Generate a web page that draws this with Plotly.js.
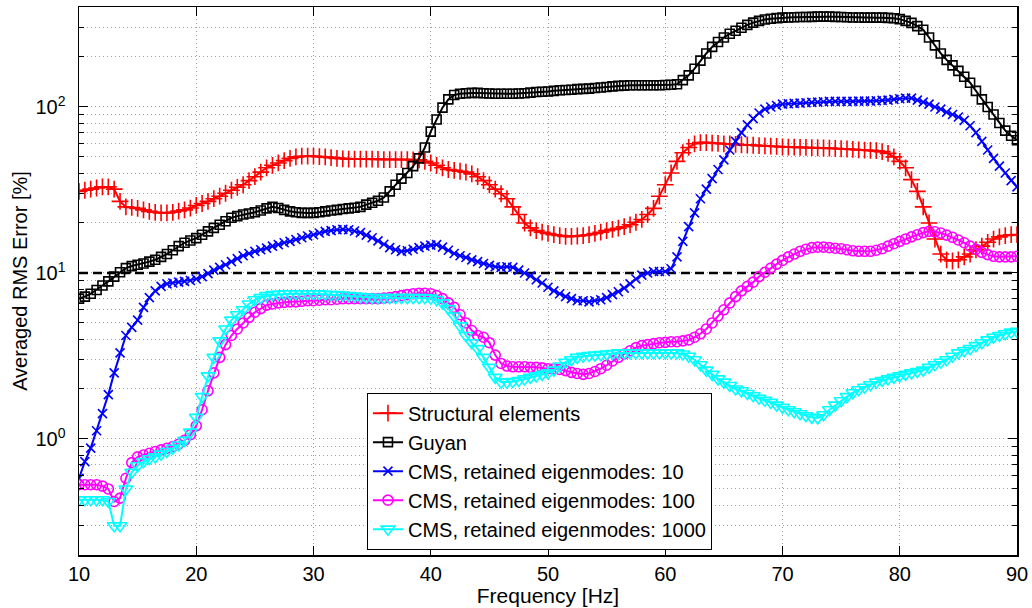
<!DOCTYPE html>
<html>
<head>
<meta charset="utf-8">
<script src="https://cdn.plot.ly/plotly-3.0.1.min.js"></script>
<style>html,body{margin:0;padding:0;background:#fff;}#chart{width:1032px;height:608px;}</style>
</head>
<body>
<div id="chart"></div>
<script>
// Frequency grid [Hz]
const freq = [
10,10.5,11,11.5,12,12.5,13,13.5,14,14.5,
15,15.5,16,16.5,17,17.5,18,18.5,19,19.5,
20,20.5,21,21.5,22,22.5,23,23.5,24,24.5,
25,25.5,26,26.5,27,27.5,28,28.5,29,29.5,
30,30.5,31,31.5,32,32.5,33,33.5,34,34.5,
35,35.5,36,36.5,37,37.5,38,38.5,39,39.5,
40,40.5,41,41.5,42,42.5,43,43.5,44,44.5,
45,45.5,46,46.5,47,47.5,48,48.5,49,49.5,
50,50.5,51,51.5,52,52.5,53,53.5,54,54.5,
55,55.5,56,56.5,57,57.5,58,58.5,59,59.5,
60,60.5,61,61.5,62,62.5,63,63.5,64,64.5,
65,65.5,66,66.5,67,67.5,68,68.5,69,69.5,
70,70.5,71,71.5,72,72.5,73,73.5,74,74.5,
75,75.5,76,76.5,77,77.5,78,78.5,79,79.5,
80,80.5,81,81.5,82,82.5,83,83.5,84,84.5,
85,85.5,86,86.5,87,87.5,88,88.5,89,89.5,
90];

const structural = [
31,31.5,32,32.5,33,33,32,27,25,24.8,
24.5,24,23.5,23.2,23,23,23.2,23.6,24,24.6,
25.5,26.2,27,28,29,30.2,31.5,32.8,34,36,
38,40.5,43,44.5,46,47.5,49,50,50.5,50.5,
50.5,50.2,50,49.5,49,48.7,48.5,48.5,48.5,48.5,
48.5,48.3,48.2,48.2,48.2,48.2,48.2,48,48,47,
46,44.5,43,42,41.5,41,40.5,39.5,38,36,
34,32,30,28,25,22.5,20,18.7,18,17.6,
17.3,17,16.8,16.6,16.6,16.7,16.8,17,17.3,17.6,
18,18.3,18.6,19,19.5,20.2,21,22.5,24.5,29,
34,40,47,53,57,60,61,61,60.5,60.3,
60,59.8,59.5,59.2,59,58.8,58.5,58.2,58,57.8,
57.5,57.3,57.2,57.1,57,56.9,56.8,56.6,56.5,56.2,
56,55.8,55.5,55.2,55,54.8,54.5,53.8,52.5,50,
47,43,36.5,31,25,20,16,13,12,11.8,
12,12.5,13,13.8,14.5,15.3,16,16.5,16.8,17,
17];

const guyan = [
7.0,7.2,7.5,7.9,8.4,8.9,9.5,10.1,10.7,11.0,
11.2,11.4,11.7,12.0,12.5,13.0,13.7,14.5,15.2,15.7,
16.2,17.0,17.8,18.7,19.5,20.5,21.5,22.0,22.5,22.8,
23.2,23.8,24.5,25.0,24.6,24.0,23.5,23.2,23.0,23.0,
23.0,23.2,23.5,23.8,24.0,24.3,24.5,24.7,25.0,25.8,
26.5,27.2,28.5,31,34,37,40,44,49,57,
71,84,99,111,118,120,121,121.5,121.5,121,
120.5,120,120,120,120,120.5,121,122,123,123.5,
124,125,126,126.5,127,128,128.5,129,130,131,
132,133,134,134.5,135,135,135,135,135,135,
135.5,136,137,145,155,170,190,210,230,246,
262,276,288,300,312,322,330,336,340,343,
345,346,347,348,348,349,350,350,350,349,
348,347,346,346,345,345,345,345,344,342,
338,330,321,307,292,262,235,210,192,178,
165,152,140,125,111,100,90,80,72,67,
63];

const cms10 = [
0.58,0.73,0.88,1.12,1.42,1.85,2.5,3.3,4.2,4.7,
5.2,6.2,7.1,7.8,8.3,8.6,8.7,8.8,8.9,9.0,
9.2,9.5,9.9,10.4,10.8,11.2,11.7,12.2,12.7,13.1,
13.5,13.8,14.1,14.5,14.8,15.2,15.5,15.9,16.3,16.7,
17.0,17.4,17.8,18.0,18.2,18.3,18.2,17.9,17.5,16.9,
16.3,15.6,14.9,14.2,13.8,13.5,13.6,13.9,14.2,14.5,
14.7,14.8,14.3,13.7,13.1,12.7,12.4,12.0,11.7,11.4,
11.1,10.9,10.8,10.9,10.8,10.4,10.0,9.6,9.1,8.7,
8.2,7.8,7.5,7.2,7.0,6.8,6.8,6.7,6.8,6.9,
7.1,7.4,7.7,8.1,8.6,9.2,9.7,10.0,10.2,10.2,
10.2,10.6,12.5,15.5,19,23,28,32,37,42,
48,55,62,70,78,85,92,97,100,102,
104,104.5,105,105.5,106,106.5,107,107.5,108,108,
108,108,108,108.5,108.5,108.5,109,109.5,110,111,
112,113,113,110,107,104,100,97,93,90,
87,83,77,70,62,55,49,44,40,36,
33];

const cms100 = [
0.53,0.53,0.53,0.53,0.52,0.5,0.42,0.44,0.58,0.72,
0.78,0.8,0.82,0.84,0.86,0.88,0.9,0.93,0.98,1.06,
1.2,1.5,1.95,2.5,3.1,3.7,4.2,4.6,5.0,5.4,
5.8,6.1,6.4,6.5,6.6,6.65,6.7,6.7,6.75,6.8,
6.8,6.85,6.9,6.9,6.95,7.0,7.0,7.0,7.0,7.0,
7.0,7.0,7.05,7.1,7.2,7.3,7.4,7.5,7.55,7.55,
7.5,7.3,7.0,6.6,6.2,5.6,5.0,4.5,4.2,4.1,
3.8,3.2,2.85,2.75,2.72,2.72,2.72,2.7,2.7,2.68,
2.65,2.65,2.62,2.58,2.52,2.48,2.45,2.48,2.55,2.65,
2.78,2.95,3.1,3.25,3.4,3.55,3.65,3.7,3.75,3.8,
3.82,3.85,3.85,3.9,3.95,4.1,4.3,4.6,5.0,5.5,
6.0,6.6,7.2,7.8,8.3,8.8,9.5,10.1,10.7,11.3,
11.9,12.5,13.0,13.5,13.9,14.2,14.3,14.3,14.2,14.1,
14.0,13.8,13.6,13.5,13.5,13.5,13.7,14.0,14.5,15.0,
15.5,16.0,16.5,17.0,17.5,17.8,17.7,17.4,16.9,16.4,
15.8,15.2,14.5,13.9,13.3,12.9,12.6,12.5,12.5,12.5,
12.6];

const cms1000 = [
0.43,0.43,0.43,0.43,0.43,0.42,0.3,0.3,0.5,0.63,
0.69,0.73,0.76,0.78,0.81,0.84,0.88,0.92,0.98,1.1,
1.35,1.8,2.4,3.1,3.9,4.6,5.2,5.6,6.0,6.5,
6.9,7.1,7.3,7.4,7.45,7.5,7.5,7.5,7.5,7.5,
7.5,7.5,7.45,7.4,7.4,7.35,7.3,7.25,7.2,7.15,
7.1,7.1,7.1,7.1,7.1,7.1,7.1,7.1,7.1,7.1,
7.05,6.9,6.6,6.1,5.5,4.8,4.2,3.8,3.5,3.1,
2.7,2.35,2.2,2.2,2.22,2.25,2.3,2.35,2.4,2.45,
2.5,2.6,2.75,2.9,3.0,3.1,3.15,3.18,3.2,3.22,
3.25,3.27,3.3,3.3,3.3,3.3,3.3,3.3,3.3,3.3,
3.3,3.3,3.3,3.25,3.15,3.0,2.8,2.6,2.45,2.3,
2.2,2.1,2.0,1.95,1.88,1.82,1.76,1.71,1.66,1.6,
1.55,1.5,1.46,1.42,1.38,1.35,1.34,1.4,1.5,1.6,
1.7,1.8,1.9,1.98,2.05,2.12,2.2,2.25,2.3,2.35,
2.4,2.45,2.5,2.55,2.6,2.7,2.8,2.9,3.0,3.15,
3.3,3.4,3.5,3.65,3.8,3.95,4.1,4.2,4.3,4.4,
4.45];

const seriesNames = [
  'Structural elements',
  'Guyan',
  'CMS, retained eigenmodes: 10',
  'CMS, retained eigenmodes: 100',
  'CMS, retained eigenmodes: 1000'
];

const thresholdX = [10, 90];
const thresholdY = [10, 10];

const xTickVals = [10,20,30,40,50,60,70,80,90];
const yTickVals = [1, 10, 100];
const yTickText = ['10<sup>0</sup>','10<sup>1</sup>','10<sup>2</sup>'];
const yMinorVals = [0.2,0.3,0.4,0.5,0.6,0.7,0.8,0.9,2,3,4,5,6,7,8,9,20,30,40,50,60,70,80,90,200,300,400];

const FONT = '"Liberation Sans", Arial, Helvetica, sans-serif';
const GRID = '1px,3px';
const GRIDCOLOR = '#a0a0a0';

function series(y, name, color, symbol, size) {
  return {
    x: freq, y: y, name: name, type: 'scatter', mode: 'lines+markers',
    line: {color: color, width: 2},
    marker: {symbol: symbol, size: size, color: color, line: {color: color, width: 1.6}}
  };
}

const traces = [
  {x: thresholdX, y: thresholdY, type: 'scatter', mode: 'lines', showlegend: false,
   line: {color: '#000', width: 2.5, dash: '9px,5px'}, hoverinfo: 'skip'},
  series(structural, seriesNames[0], '#ff0000', 'cross-thin-open', 12),
  series(guyan, seriesNames[1], '#000000', 'square-open', 9),
  series(cms10, seriesNames[2], '#0000ff', 'x-thin-open', 9),
  series(cms100, seriesNames[3], '#ff00ff', 'circle-open', 10),
  series(cms1000, seriesNames[4], '#00ffff', 'triangle-down-open', 12)
];

const layout = {
  width: 1032, height: 608,
  margin: {l: 79, r: 15, t: 7, b: 53},
  paper_bgcolor: '#fff', plot_bgcolor: '#fff',
  font: {family: FONT, color: '#000', size: 20},
  showlegend: true,
  legend: {
    x: 0.307, y: 0.153, xanchor: 'left', yanchor: 'middle',
    bgcolor: '#fff', bordercolor: '#000', borderwidth: 1,
    font: {family: FONT, size: 20, color: '#000'},
    tracegroupgap: 0, itemwidth: 30
  },
  xaxis: {
    range: [10, 90], tickmode: 'array', tickvals: xTickVals,
    ticks: 'inside', ticklen: 9, tickwidth: 1, tickcolor: '#000',
    showline: true, linecolor: '#000', linewidth: 1.5, mirror: 'ticks',
    showgrid: true, gridcolor: GRIDCOLOR, gridwidth: 1, griddash: GRID,
    zeroline: false, ticklabelstandoff: 0,
    tickfont: {family: FONT, size: 20, color: '#000'},
    title: {text: 'Frequency [Hz]', font: {family: FONT, size: 21, color: '#000'}, standoff: 4}
  },
  yaxis: {
    type: 'log', range: [Math.log10(0.2), Math.log10(400)],
    tickmode: 'array', tickvals: yTickVals, ticktext: yTickText,
    ticks: 'inside', ticklen: 9, tickwidth: 1, tickcolor: '#000',
    showline: true, linecolor: '#000', linewidth: 1.5, mirror: 'ticks',
    showgrid: true, gridcolor: GRIDCOLOR, gridwidth: 1, griddash: GRID,
    zeroline: false, ticklabelstandoff: 8,
    tickfont: {family: FONT, size: 20, color: '#000'},
    minor: {tickmode: 'array', tickvals: yMinorVals, ticks: 'inside', ticklen: 5, tickcolor: '#000',
            showgrid: true, gridcolor: GRIDCOLOR, gridwidth: 1, griddash: GRID},
    title: {text: 'Averaged RMS Error [%]', font: {family: FONT, size: 20, color: '#000'}, standoff: 2}
  }
};

Plotly.newPlot('chart', traces, layout, {displayModeBar: false, staticPlot: true});
</script>
</body>
</html>
